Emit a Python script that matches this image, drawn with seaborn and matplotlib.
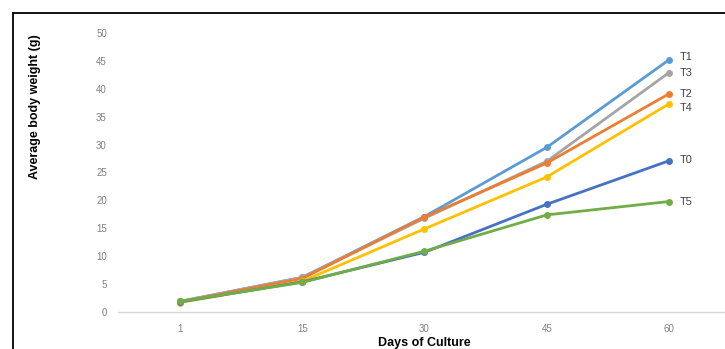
import matplotlib
matplotlib.use("Agg")
import matplotlib.pyplot as plt
from matplotlib.lines import Line2D
import seaborn as sns
import pandas as pd

days = ["1", "15", "30", "45", "60"]
treatments = ["T0", "T1", "T2", "T3", "T4", "T5"]
t0 = [1.8, 5.4, 10.7, 19.3, 27.1]
t1 = [1.9, 6.2, 17.1, 29.5, 45.2]
t2 = [1.8, 6.0, 17.0, 26.7, 39.1]
t3 = [1.9, 6.2, 16.8, 27.0, 42.9]
t4 = [1.7, 5.5, 14.9, 24.2, 37.3]
t5 = [1.9, 5.3, 10.9, 17.4, 19.8]
yticks = [0, 5, 10, 15, 20, 25, 30, 35, 40, 45, 50]

series = {"T0": t0, "T1": t1, "T2": t2, "T3": t3, "T4": t4, "T5": t5}
colors = {"T0": "#4472C4", "T1": "#5B9BD5", "T2": "#ED7D31",
          "T3": "#A5A5A5", "T4": "#FFC000", "T5": "#70AD47"}
# drawing order: later lines sit on top
draw_order = ["T1", "T3", "T2", "T4", "T0", "T5"]

rows = []
for name in draw_order:
    for i, d in enumerate(days):
        rows.append({"day": i, "weight": series[name][i], "treatment": name})
df = pd.DataFrame(rows)

sns.set_theme(style="white")
plt.rcParams["font.family"] = ["Liberation Sans", "DejaVu Sans"]

W, H = 725, 349
fig = plt.figure(figsize=(W / 100, H / 100), dpi=100)
fig.patch.set_facecolor("white")

left_px, right_px, top_px, bottom_px = 118, 725, 33, 312
ax = fig.add_axes([left_px / W, 1 - bottom_px / H,
                   (right_px - left_px) / W, (bottom_px - top_px) / H])

sns.lineplot(data=df, x="day", y="weight", hue="treatment",
             hue_order=draw_order, palette=colors, marker="o",
             markersize=5, markeredgewidth=0, linewidth=2.0,
             legend=False, ax=ax)

ax.set_xlim(-0.507, 4.458)
ax.set_ylim(0, 50)
ax.set_xticks(range(len(days)))
ax.set_xticklabels(days)
ax.set_yticks(yticks)
ax.tick_params(axis="both", length=0, labelsize=7, labelcolor="#808080")
ax.tick_params(axis="x", pad=9)
ax.tick_params(axis="y", pad=8)
for s in ["top", "right", "left"]:
    ax.spines[s].set_visible(False)
ax.spines["bottom"].set_color("#D9D9D9")
ax.spines["bottom"].set_linewidth(1.0)
ax.set_xlabel("")
ax.set_ylabel("")
ax.grid(False)

# end-of-line series labels, nudged apart where lines converge
label_offsets = {"T1": 0.45, "T3": 0.0, "T2": 0.0, "T4": -0.7, "T0": 0.2, "T5": 0.0}
for name in treatments:
    ax.annotate(name, xy=(4, series[name][-1] + label_offsets[name]),
                xytext=(8, 0), textcoords="offset points", va="center",
                ha="left", fontsize=7.8, color="#404040")

fig.text(424 / W, 1 - 343 / H, "Days of Culture", ha="center", va="center",
         fontsize=9, fontweight="bold", color="black")
fig.text(35 / W, 1 - 107 / H, "Average body weight (g)", ha="center",
         va="center", rotation=90, fontsize=9, fontweight="bold", color="black")

# outer frame (top and left edges)
fig.add_artist(Line2D([12.5 / W, 1.0], [1 - 13 / H, 1 - 13 / H],
                      transform=fig.transFigure, color="black", linewidth=1.3))
fig.add_artist(Line2D([12.5 / W, 12.5 / W], [0.0, 1 - 13 / H],
                      transform=fig.transFigure, color="black", linewidth=1.3))

fig.savefig("out.png", dpi=100)
